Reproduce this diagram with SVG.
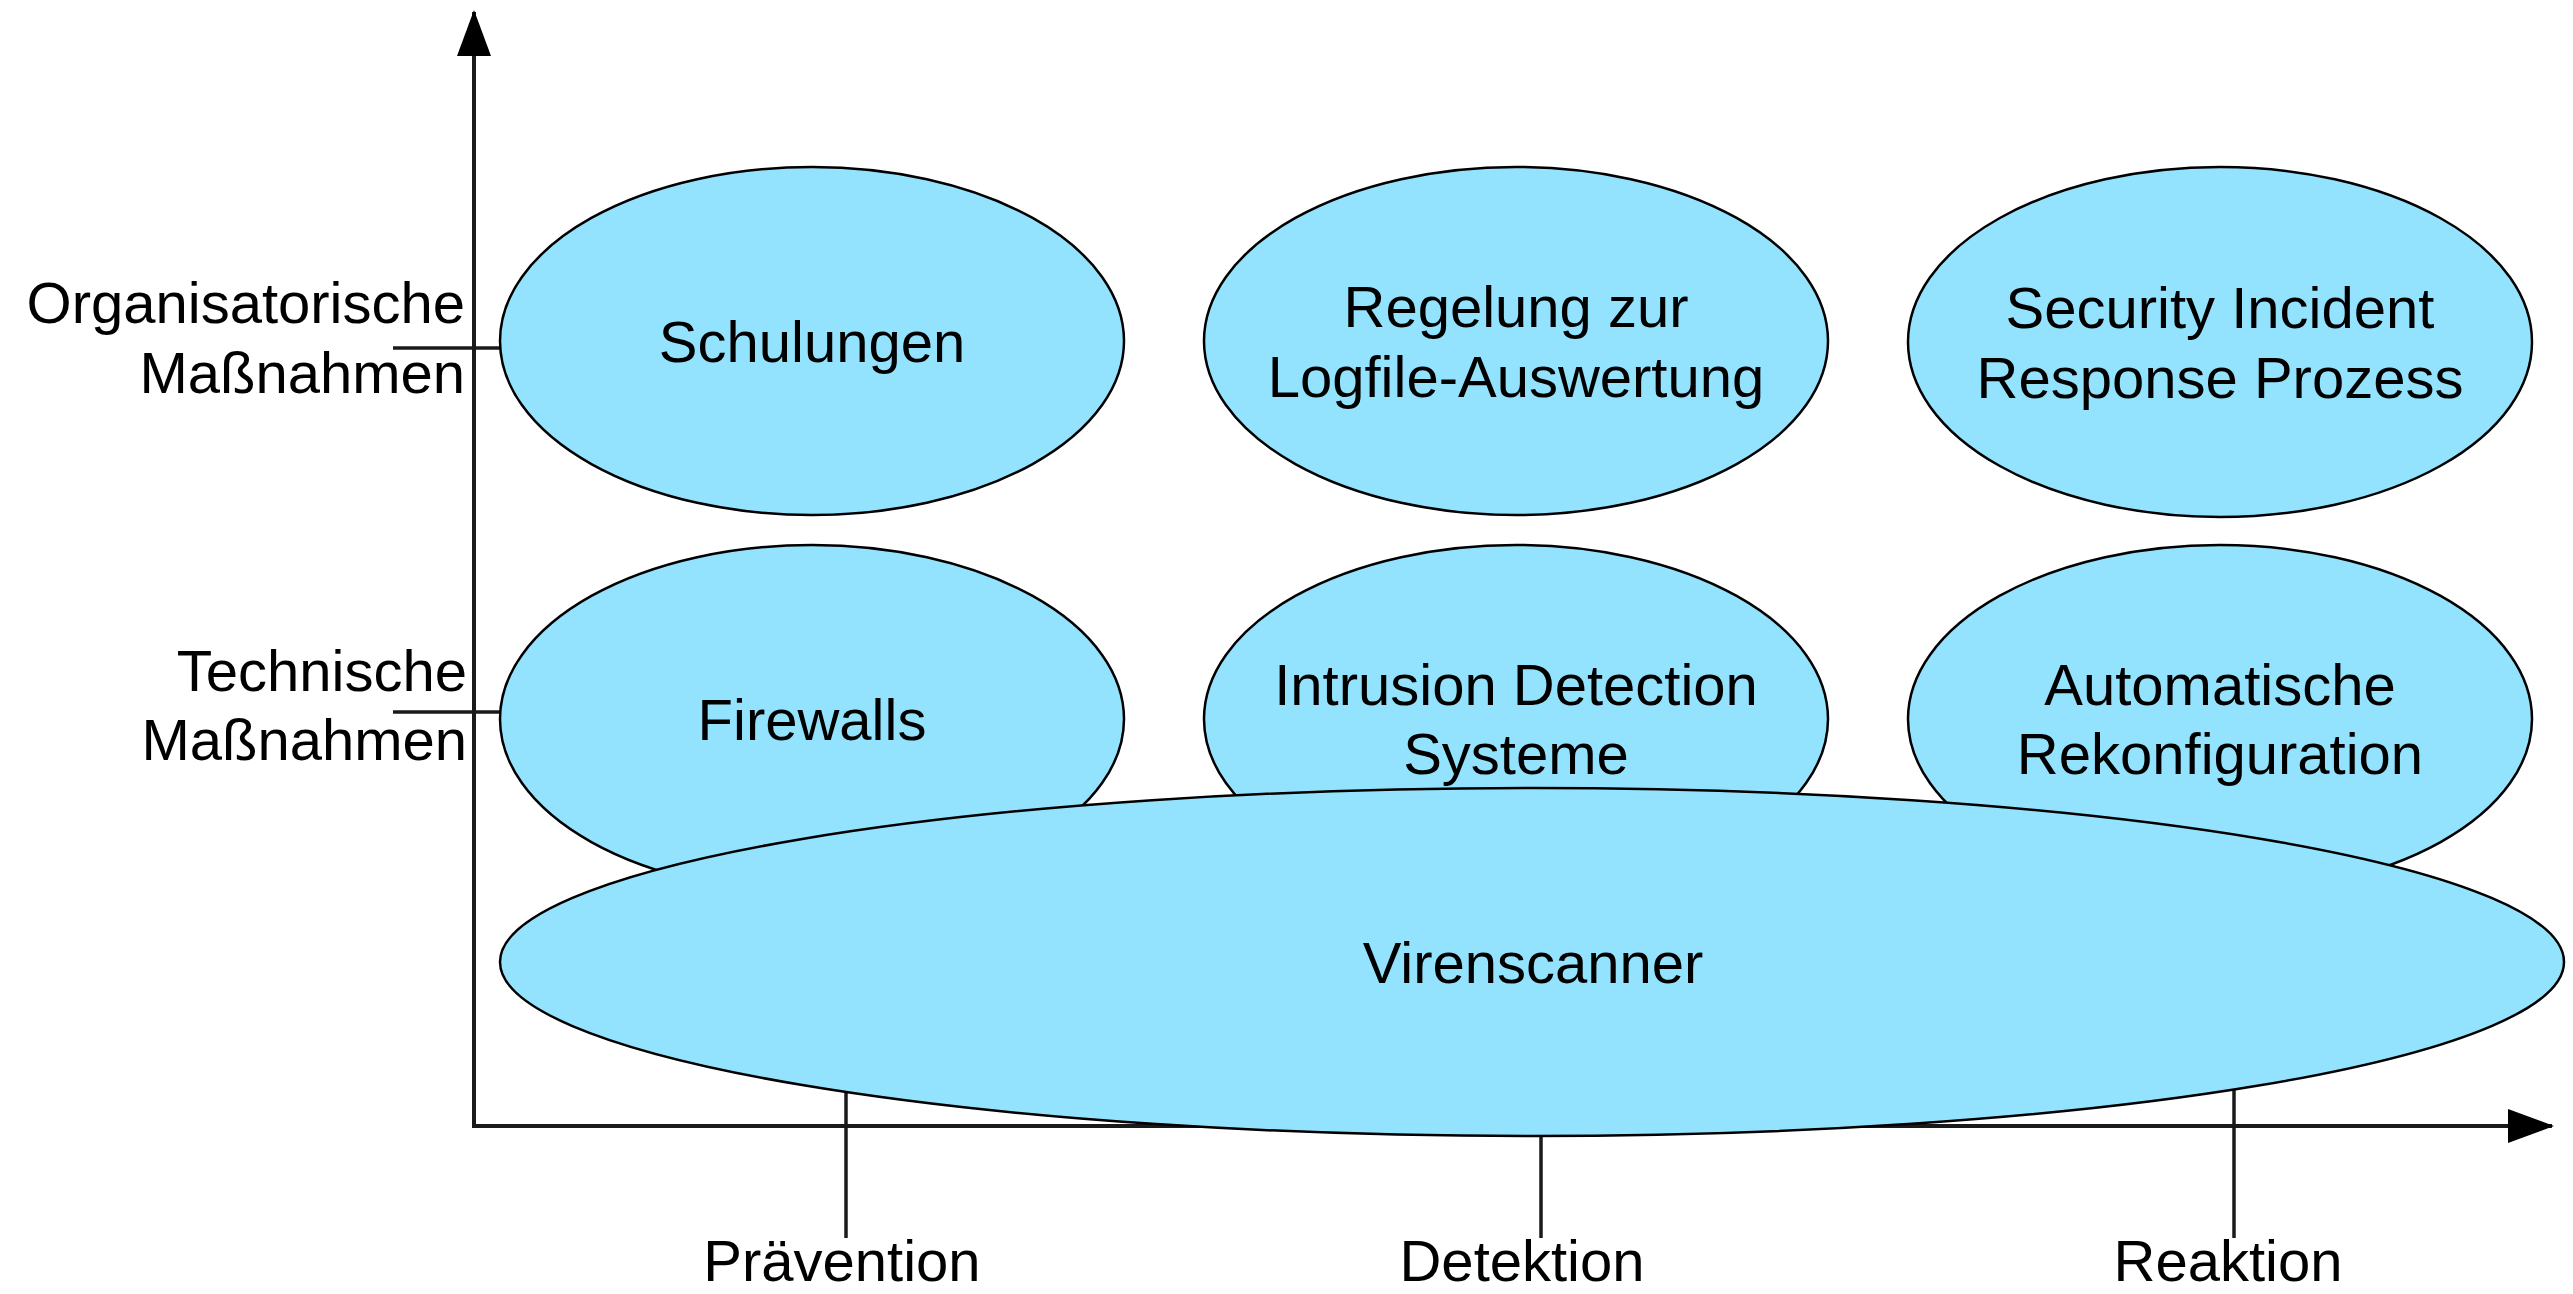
<svg xmlns="http://www.w3.org/2000/svg" width="2573" height="1294" viewBox="0 0 2573 1294">
  <defs>
    <style>
      .axis { stroke: #1a1a1a; stroke-width: 4; fill: none; }
      .tick { stroke: #1a1a1a; stroke-width: 3.5; fill: none; }
      .node ellipse { fill: #94e3fe; stroke: #000; stroke-width: 2.5; }
      text { font-family: "Liberation Sans", Arial, Helvetica, sans-serif; font-size: 58px; fill: #000; }
      .c { text-anchor: middle; }
      .r { text-anchor: end; }
    </style>
    <marker id="arrow" viewBox="0 0 46 34" refX="44" refY="17" markerWidth="46" markerHeight="34" markerUnits="userSpaceOnUse" orient="auto">
      <path d="M0,0 L46,17 L0,34 Z" fill="#000"/>
    </marker>
  </defs>

  <rect width="2573" height="1294" fill="#fff"/>

  <!-- axes and scale ticks -->
  <g id="connectors">
    <line class="axis" x1="474" y1="1126" x2="474" y2="12" marker-end="url(#arrow)"/>
    <line class="axis" x1="472" y1="1126" x2="2552" y2="1126" marker-end="url(#arrow)"/>
    <line class="tick" x1="393" y1="348" x2="520" y2="348"/>
    <line class="tick" x1="393" y1="712" x2="520" y2="712"/>
    <line class="tick" x1="846" y1="1060" x2="846" y2="1238"/>
    <line class="tick" x1="1541" y1="1100" x2="1541" y2="1238"/>
    <line class="tick" x1="2234" y1="1060" x2="2234" y2="1238"/>
  </g>

  <!-- axis labels -->
  <g id="axis-labels">
    <text class="r" x="465" y="323">Organisatorische</text>
    <text class="r" x="465" y="393">Maßnahmen</text>
    <text class="r" x="467" y="691">Technische</text>
    <text class="r" x="467" y="760">Maßnahmen</text>
    <text class="c" x="842" y="1281">Prävention</text>
    <text class="c" x="1522" y="1281">Detektion</text>
    <text class="c" x="2228" y="1281">Reaktion</text>
  </g>

  <!-- organisational measures -->
  <g id="schulungen" class="node">
    <ellipse cx="812" cy="341" rx="312" ry="174"/>
    <text class="c" x="812" y="362">Schulungen</text>
  </g>
  <g id="logfile-auswertung" class="node">
    <ellipse cx="1516" cy="341" rx="312" ry="174"/>
    <text class="c" x="1516" y="327">Regelung zur</text>
    <text class="c" x="1516" y="397">Logfile-Auswertung</text>
  </g>
  <g id="incident-response" class="node">
    <ellipse cx="2220" cy="342" rx="312" ry="175"/>
    <text class="c" x="2220" y="328">Security Incident</text>
    <text class="c" x="2220" y="398">Response Prozess</text>
  </g>

  <!-- technical measures -->
  <g id="firewalls" class="node">
    <ellipse cx="812" cy="719" rx="312" ry="174"/>
    <text class="c" x="812" y="740">Firewalls</text>
  </g>
  <g id="ids" class="node">
    <ellipse cx="1516" cy="719" rx="312" ry="174"/>
    <text class="c" x="1516" y="705">Intrusion Detection</text>
    <text class="c" x="1516" y="774">Systeme</text>
  </g>
  <g id="rekonfiguration" class="node">
    <ellipse cx="2220" cy="719" rx="312" ry="174"/>
    <text class="c" x="2220" y="705">Automatische</text>
    <text class="c" x="2220" y="774">Rekonfiguration</text>
  </g>

  <!-- spans all three phases -->
  <g id="virenscanner" class="node">
    <ellipse cx="1532" cy="962" rx="1032" ry="174"/>
    <text class="c" x="1533" y="983">Virenscanner</text>
  </g>
</svg>
